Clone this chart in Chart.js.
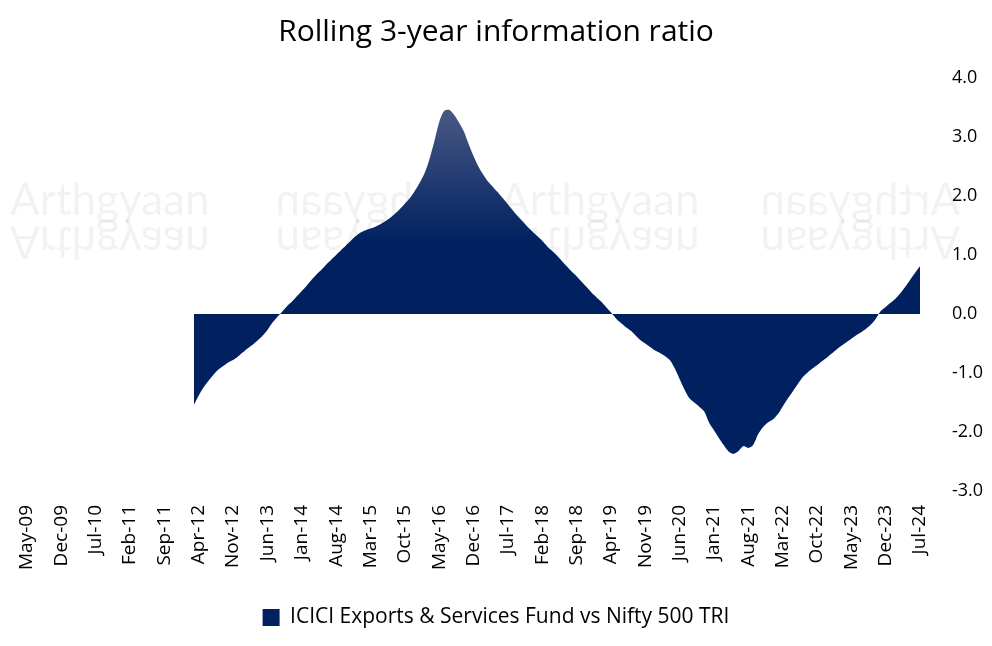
<!DOCTYPE html>
<html>
<head>
<meta charset="utf-8">
<script src="https://cdn.jsdelivr.net/npm/chart.js@4.4.1/dist/chart.umd.min.js"></script>
<style>
  html, body { margin: 0; padding: 0; background: #ffffff; }
  #wrap { width: 992px; height: 646px; position: relative; }
</style>
</head>
<body>
<div id="wrap"><canvas id="c" width="992" height="646"></canvas></div>
<script>
// ---- Data ----
const titleText = 'Rolling 3-year information ratio';
const seriesName = 'ICICI Exports & Services Fund vs Nifty 500 TRI';
const monthNames = ['Jan','Feb','Mar','Apr','May','Jun','Jul','Aug','Sep','Oct','Nov','Dec'];
const startYear = 2009, startMonth = 4;   // May-09
const monthCount = 183;                  // May-09 .. Jul-24
const labelEvery = 7;                    // a tick label every 7 months
const yTicks = [-3, -2, -1, 0, 1, 2, 3, 4];

// Rolling IR values, Mar-12 .. Jul-24 (earlier months have no value)
const leadingEmpty = 34;
const irValues = [
  -1.54, -1.38, -1.24, -1.13, -1.03, -0.94, -0.88, -0.82, -0.78, -0.72,
  -0.65, -0.58, -0.52, -0.45, -0.37, -0.27, -0.15, -0.05, 0.04, 0.13,
  0.21, 0.30, 0.39, 0.48, 0.58, 0.67, 0.75, 0.84, 0.92, 1.00,
  1.08, 1.16, 1.24, 1.32, 1.38, 1.42, 1.45, 1.48, 1.52, 1.57,
  1.63, 1.70, 1.78, 1.87, 1.96, 2.08, 2.22, 2.38, 2.62, 2.92,
  3.25, 3.44, 3.46, 3.38, 3.25, 3.10, 2.88, 2.68, 2.50, 2.36,
  2.24, 2.15, 2.06, 1.96, 1.86, 1.76, 1.66, 1.57, 1.48, 1.40,
  1.32, 1.24, 1.15, 1.07, 0.99, 0.90, 0.81, 0.72, 0.64, 0.55,
  0.46, 0.37, 0.29, 0.21, 0.12, 0.03, -0.07, -0.15, -0.22, -0.28,
  -0.36, -0.44, -0.50, -0.56, -0.62, -0.66, -0.71, -0.78, -0.92, -1.10,
  -1.28, -1.43, -1.50, -1.57, -1.65, -1.84, -1.97, -2.10, -2.22, -2.33,
  -2.37, -2.32, -2.24, -2.27, -2.22, -2.04, -1.92, -1.84, -1.79, -1.70,
  -1.57, -1.44, -1.32, -1.20, -1.08, -1.00, -0.93, -0.87, -0.80, -0.74,
  -0.67, -0.60, -0.54, -0.48, -0.42, -0.36, -0.31, -0.25, -0.18, -0.08,
  0.05, 0.12, 0.19, 0.26, 0.35, 0.46, 0.58, 0.70, 0.81
];

// ---- Build categories ----
const categories = [];
for (let k = 0; k < monthCount; k++) {
  const m = (startMonth + k) % 12;
  const y = startYear + Math.floor((startMonth + k) / 12);
  categories.push(monthNames[m] + '-' + String(y % 100).padStart(2, '0'));
}
const seriesData = new Array(leadingEmpty).fill(null).concat(irValues);

const FONT = '"Comic Sans MS", "Segoe Print", "Open Sans", Lato, sans-serif';
const NAVY = '#002060';

const watermark = {
  id: 'watermark',
  beforeDraw(chart) {
    const ctx = chart.ctx;
    ctx.save();
    ctx.font = '44px Lato, sans-serif';
    ctx.fillStyle = 'rgba(0,0,0,0.05)';
    ctx.textBaseline = 'alphabetic';
    const spots = [[10, 215, false], [500, 215, false], [265, 215, true], [750, 215, true]];
    spots.forEach(([x, y, flip]) => {
      ctx.save();
      ctx.translate(x + 105, y);
      if (flip) ctx.scale(-1, 1);
      ctx.fillText('Arthgyaan', -105, 0);
      ctx.scale(1, -1);
      ctx.fillText('Arthgyaan', -105, -12);
      ctx.restore();
    });
    ctx.restore();
  }
};

const shadow = {
  id: 'shadow',
  beforeDatasetDraw(chart) {
    const ctx = chart.ctx;
    ctx.save();
    ctx.shadowColor = 'rgba(0,0,0,0.35)';
    ctx.shadowBlur = 4;
    ctx.shadowOffsetX = 2;
    ctx.shadowOffsetY = 2;
  },
  afterDatasetDraw(chart) { chart.ctx.restore(); }
};

new Chart(document.getElementById('c'), {
  type: 'line',
  data: {
    labels: categories,
    datasets: [{
      label: seriesName,
      data: seriesData,
      fill: 'origin',
      borderWidth: 0,
      borderColor: NAVY,
      pointRadius: 0,
      tension: 0.3,
      spanGaps: false,
      yAxisID: 'y',
      backgroundColor: (ctx) => {
        const chart = ctx.chart;
        const { chartArea, scales } = chart;
        if (!chartArea) return NAVY;
        const yTop = scales.y.getPixelForValue(3.5);
        const yMid = scales.y.getPixelForValue(1.2);
        const g = chart.ctx.createLinearGradient(0, yTop, 0, yMid);
        g.addColorStop(0, '#4a5a86');
        g.addColorStop(1, NAVY);
        return g;
      }
    }]
  },
  options: {
    responsive: false,
    animation: false,
    layout: { padding: { left: 4, right: 4, top: 6, bottom: 8 } },
    plugins: {
      title: {
        display: true,
        text: titleText,
        color: '#000',
        font: { family: FONT, size: 30, weight: 'normal' },
        padding: { top: 8, bottom: 28 }
      },
      legend: {
        display: true,
        position: 'bottom',
        labels: {
          color: '#000',
          font: { family: FONT, size: 21 },
          boxWidth: 17,
          boxHeight: 17,
          padding: 6,
          useBorderRadius: false
        }
      },
      tooltip: { enabled: false }
    },
    scales: {
      x: {
        grid: { display: false },
        border: { display: false },
        ticks: {
          color: '#000',
          font: { family: FONT, size: 19 },
          autoSkip: false,
          maxRotation: 90,
          minRotation: 90,
          padding: 6,
          callback: (val, idx) => (idx % labelEvery === 0 ? categories[idx] : null)
        },
        afterFit: (s) => { s.height = 110; }
      },
      y: {
        position: 'right',
        min: yTicks[0],
        max: yTicks[yTicks.length - 1],
        grid: { display: false },
        border: { display: false },
        afterBuildTicks: (s) => { s.ticks = yTicks.map(v => ({ value: v })); },
        ticks: {
          color: '#000',
          font: { family: FONT, size: 18 },
          padding: 24,
          callback: (v) => Number(v).toFixed(1)
        },
        afterFit: (s) => { s.width = 68; }
      },
      yLeft: {
        position: 'left',
        display: true,
        min: yTicks[0],
        max: yTicks[yTicks.length - 1],
        grid: { display: false },
        border: { display: false },
        ticks: { display: false },
        afterFit: (s) => { s.width = 23; }
      }
    }
  },
  plugins: [watermark, shadow]
});
</script>
</body>
</html>
